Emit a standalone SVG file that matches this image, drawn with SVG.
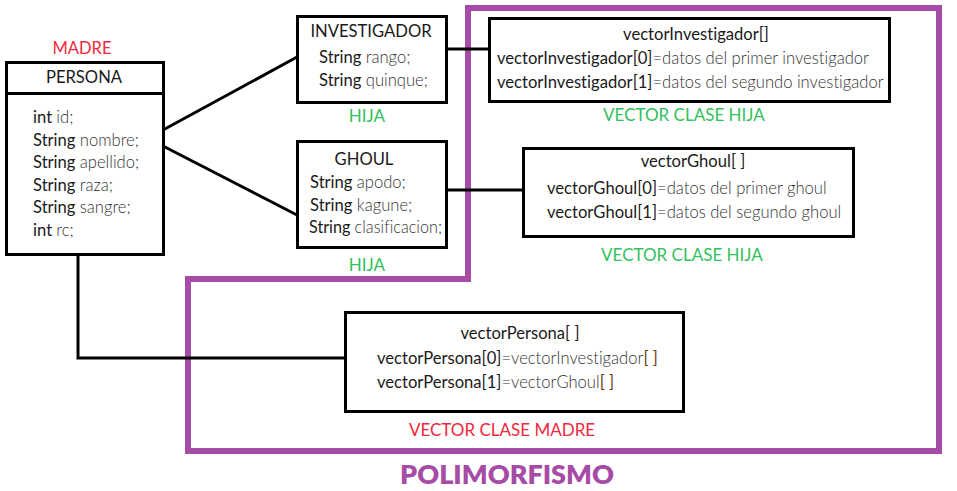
<svg xmlns="http://www.w3.org/2000/svg" width="957" height="491" viewBox="0 0 957 491">
<style>
text{font-family:Lato,"Open Sans","Noto Sans",sans-serif;font-size:16.6px;fill:#1a1a1a;font-variant-ligatures:none}
.l{font-weight:300;fill:#333}
.b{fill:#6b3d10}
.c{text-anchor:middle}
.box{fill:#fff;stroke:#000;stroke-width:3}
.con{fill:none;stroke:#000;stroke-width:3}
.green{fill:#33bf5c;text-anchor:middle;font-size:17px}
.red{fill:#f0283c;text-anchor:middle;font-size:17px}
</style>
<rect width="957" height="491" fill="#fff"/>
<path d="M468,8 H939 V451 H188 V279 H468 Z" fill="none" stroke="#a64ca6" stroke-width="6"/>
<g id="connectors">
<line class="con" x1="163" y1="130" x2="297" y2="57"/>
<line class="con" x1="163" y1="146" x2="297" y2="215"/>
<line class="con" x1="447" y1="49" x2="490" y2="49"/>
<line class="con" x1="447" y1="190" x2="523" y2="190"/>
<path class="con" d="M78,255 V358 H345"/>
</g>
<g id="persona">
<text class="red" x="82" y="54" style="font-size:16.5px">MADRE</text>
<rect class="box" x="6.5" y="62.5" width="157" height="192"/>
<line class="con" x1="6.5" y1="93.5" x2="163.5" y2="93.5"/>
<text class="c" x="84" y="83">PERSONA</text>
<text x="33" y="123">int <tspan class="l">id;</tspan></text>
<text x="33" y="145.5">String <tspan class="l">nombre;</tspan></text>
<text x="33" y="168">String <tspan class="l">apellido;</tspan></text>
<text x="33" y="190.5">String <tspan class="l">raza;</tspan></text>
<text x="33" y="213">String <tspan class="l">sangre;</tspan></text>
<text x="33" y="235.5">int <tspan class="l">rc;</tspan></text>
</g>
<g id="investigador">
<rect class="box" x="297.5" y="16.5" width="149" height="86"/>
<text class="c" x="371" y="37">INVESTIGADOR</text>
<text x="319" y="63">String <tspan class="l">rango;</tspan></text>
<text x="319" y="86">String <tspan class="l">quinque;</tspan></text>
<text class="green" x="367" y="122">HIJA</text>
</g>
<g id="ghoul">
<rect class="box" x="297.5" y="141.5" width="149" height="106"/>
<text class="c" x="364" y="165">GHOUL</text>
<text x="310" y="188">String <tspan class="l">apodo;</tspan></text>
<text x="310" y="211">String <tspan class="l">kagune;</tspan></text>
<text x="309" y="233" textLength="133" lengthAdjust="spacingAndGlyphs">String <tspan class="l">clasificacion;</tspan></text>
<text class="green" x="367" y="271">HIJA</text>
</g>
<g id="vectorInvestigador">
<rect class="box" x="489.5" y="18.5" width="400" height="83"/>
<text class="c" x="696" y="40">vectorInvestigador[]</text>
<text x="497" y="64">vectorInvestigador[0]<tspan class="l">=datos del primer investigador</tspan></text>
<text x="497" y="88">vectorInvestigador[1]<tspan class="l">=datos del segundo investigador</tspan></text>
<text class="green" x="684" y="121">VECTOR CLASE HIJA</text>
</g>
<g id="vectorGhoul">
<rect class="box" x="523.5" y="148.5" width="330" height="88"/>
<text class="c" x="693" y="167">vectorGhoul[ ]</text>
<text x="547" y="194">vectorGhoul[0]<tspan class="l">=datos del primer ghoul</tspan></text>
<text x="547" y="218">vectorGhoul[1]<tspan class="l">=datos del segundo ghoul</tspan></text>
<text class="green" x="682" y="261">VECTOR CLASE HIJA</text>
</g>
<g id="vectorPersona">
<rect class="box" x="345.5" y="312.5" width="338" height="99"/>
<text class="c" x="520" y="339">vectorPersona[ ]</text>
<text x="377" y="364">vectorPersona[0]<tspan class="l">=vectorInvestigador</tspan><tspan class="b">[ ]</tspan></text>
<text x="377" y="388">vectorPersona[1]<tspan class="l">=vectorGhoul</tspan><tspan class="b">[ ]</tspan></text>
<text class="red" x="502" y="436">VECTOR CLASE MADRE</text>
</g>
<text x="507" y="484" class="c" style="font-size:27px;font-weight:800;fill:#a64ca6">POLIMORFISMO</text>
</svg>
